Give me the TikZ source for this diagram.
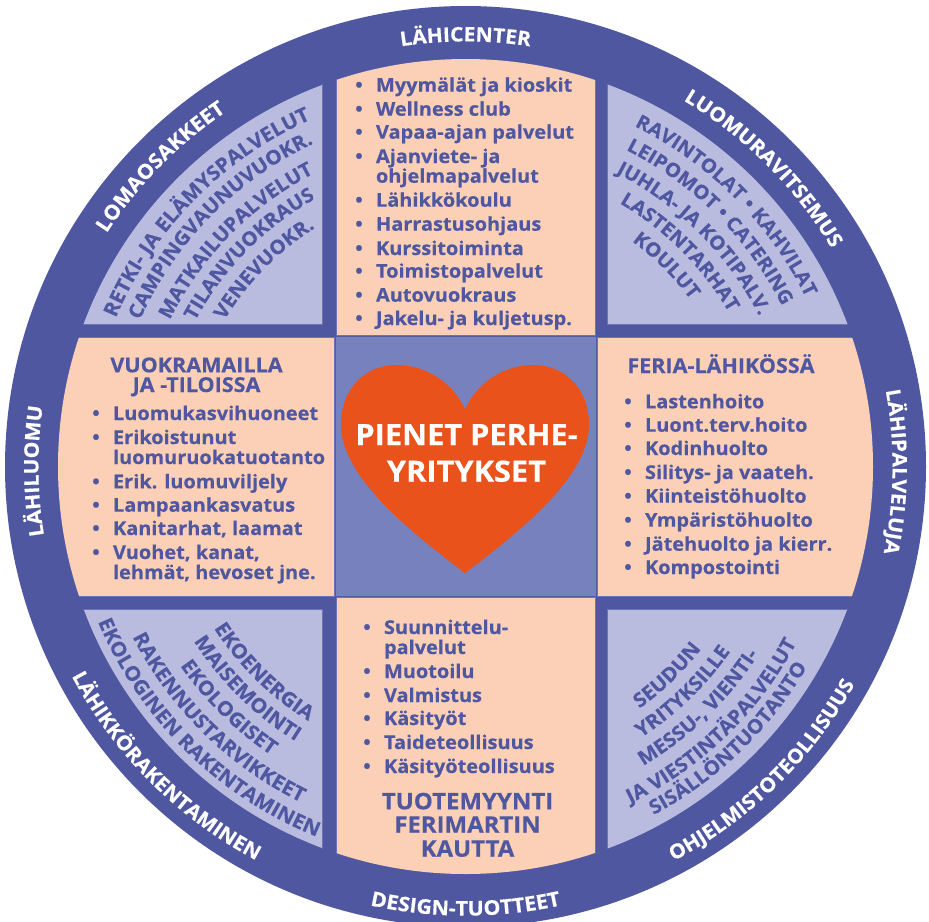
\documentclass[tikz,border=0pt]{standalone}
\usepackage{fontspec}
\usetikzlibrary{decorations.text}
\newfontfamily\basefnt[Ligatures=NoCommon,FakeStretch=1.05,FakeBold=0.4]{Open Sans Bold}
\definecolor{ring}{HTML}{5057A1}
\definecolor{edge}{HTML}{6C73B6}
\definecolor{lav}{HTML}{B9BCDF}
\definecolor{peach}{HTML}{FBD0B6}
\definecolor{sq}{HTML}{7781BD}
\definecolor{heart}{HTML}{E9531B}
\newcommand\fsz[1]{\basefnt\fontsize{#1}{#1}\selectfont}
\tikzset{
  tx/.style={inner sep=0pt,outer sep=0pt,text=ring,font=\fsz{19}},
  hd/.style={inner sep=0pt,outer sep=0pt,text=ring,font=\fsz{20.5},anchor=base},
  big/.style={inner sep=0pt,outer sep=0pt,text=ring,font=\fsz{22.8},anchor=base},
  hearttx/.style={inner sep=0pt,outer sep=0pt,text=white,font=\fsz{29.3},anchor=base},
  panel/.style={fill=peach,draw=edge,line width=0.7pt},
  quad/.style={fill=lav,draw=edge,line width=0.7pt}
}
% #1 radius, #2 centre angle, #3 cw or ccw sign (-1 clockwise, 1 counter), #4 size, #5 colour, #6 text
\newcommand\curved[6]{%
  \pgfmathsetmacro\aA{#2-(#3)*70}\pgfmathsetmacro\aB{#2+(#3)*70}%
  \path[shift={(465.5pt,-466.5pt)},decorate,
    decoration={text along path,text align=center,text={|\color{#5}\fsz{#4}|#6}}]
    (\aA:#1pt) arc[start angle=\aA,end angle=\aB,radius=#1pt];}
\newcommand\li[4]{\node[tx,anchor=base] (b#1) at (#2-17,-#3) {•};\node[tx,anchor=base west] (t#1) at (#2,-#3) {#4};}
\newcommand\lc[4]{\node[tx,anchor=base west] (t#1) at (#2,-#3) {#4};}
\begin{document}
\begin{tikzpicture}[x=1pt,y=1pt]
\clip (0,0) rectangle (929,-921);
\coordinate (c) at (465.5,-466.5);
% ring
\fill[ring] (c) circle[radius=460.5pt];
\begin{scope}
\clip (c) circle[radius=407.5pt];
% peach cross
\path[panel] (336,0) rectangle (595.5,-335.5);
\path[panel] (336,-597.5) rectangle (595.5,-921);
\path[panel] (0,-337.7) rectangle (334,-596);
\path[panel] (597,-337.7) rectangle (929,-596);
% lavender quadrants
\path[quad] (0,0) rectangle (322.7,-324);
\path[quad] (607.7,0) rectangle (929,-324);
\path[quad] (0,-609.3) rectangle (322.7,-921);
\path[quad] (607.7,-609.3) rectangle (929,-921);
\end{scope}
% centre square
\path[fill=sq,draw=ring!90!sq,line width=1.2pt] (335.5,-336.5) rectangle (596.5,-596.8);
% heart
\fill[heart] (465,-573.3)
  .. controls (420,-538.3) and (341,-480) .. (341,-425)
  .. controls (341,-386.7) and (366.7,-365) .. (396.7,-365)
  .. controls (426.7,-365) and (453.3,-383.3) .. (465,-409.3)
  .. controls (476.7,-383.3) and (503.3,-365) .. (533.3,-365)
  .. controls (563.3,-365) and (589,-386.7) .. (589,-425)
  .. controls (589,-480) and (510,-538.3) .. (465,-573.3) -- cycle;
\node[hearttx] (h1) at (466.5,-445) {PIENET PERHE-};
\node[hearttx] (h2) at (466.5,-481.7) {YRITYKSET};
% top list
\li{a1}{376}{91.7}{Myymälät ja kioskit}
\li{a2}{376}{115.7}{Wellness club}
\li{a3}{376}{138.7}{Vapaa-ajan palvelut}
\li{a4}{376}{163}{Ajanviete- ja}
\lc{a5}{376}{182.7}{ohjelmapalvelut}
\li{a6}{376}{206.7}{Lähikkökoulu}
\li{a7}{376}{230.7}{Harrastusohjaus}
\li{a8}{376}{255}{Kurssitoiminta}
\li{a9}{376}{277.7}{Toimistopalvelut}
\li{a10}{376}{301.7}{Autovuokraus}
\li{a11}{376}{325}{Jakelu- ja kuljetusp.}
% left list
\node[hd] (l0) at (196.5,-372.3) {VUOKRAMAILLA};
\node[hd] (l00) at (196.5,-392) {JA -TILOISSA};
\li{l1}{113}{420}{Luomukasvihuoneet}
\li{l2}{113}{444}{Erikoistunut}
\lc{l3}{113}{464}{luomuruokatuotanto}
\li{l4}{113}{488.3}{Erik. luomuviljely}
\li{l5}{113}{511.7}{Lampaankasvatus}
\li{l6}{113}{535}{Kanitarhat, laamat}
\li{l7}{113}{559}{Vuohet, kanat,}
\lc{l8}{113}{579}{lehmät, hevoset jne.}
% right list
\node[hd] (r0) at (721,-373) {FERIA-LÄHIKÖSSÄ};
\li{r1}{645}{408.3}{Lastenhoito}
\li{r2}{645}{431.7}{Luont.terv.hoito}
\li{r3}{645}{455}{Kodinhuolto}
\li{r4}{645}{479}{Silitys- ja vaateh.}
\li{r5}{645}{502.7}{Kiinteistöhuolto}
\li{r6}{645}{526.7}{Ympäristöhuolto}
\li{r7}{645}{550.7}{Jätehuolto ja kierr.}
\li{r8}{645}{574}{Kompostointi}
% bottom list
\li{d1}{384}{634}{Suunnittelu-}
\lc{d2}{384}{654}{palvelut}
\li{d3}{384}{678}{Muotoilu}
\li{d4}{384}{702}{Valmistus}
\li{d5}{384}{725}{Käsityöt}
\li{d6}{384}{749}{Taideteollisuus}
\li{d7}{384}{773}{Käsityöteollisuus}
\node[big] (d8) at (467.5,-809.3) {TUOTEMYYNTI};
\node[big] (d9) at (467.5,-832.7) {FERIMARTIN};
\node[big] (d10) at (467.5,-856.7) {KAUTTA};
% ring labels
\curved{425}{90}{-1}{20}{white}{LÄHICENTER}
\curved{427}{-0.7}{-1}{20}{white}{LÄHIPALVELUJA}
\curved{427}{180.6}{-1}{20}{white}{LÄHILUOMU}
\curved{449}{270}{1}{20.3}{white}{DESIGN-TUOTTEET}
\curved{428}{135.5}{-1}{20.3}{white}{LOMAOSAKKEET}
\curved{426}{45}{-1}{20}{white}{LUOMURAVITSEMUS}
\curved{446}{-45.7}{1}{20}{white}{OHJELMISTOTEOLLISUUS}
\curved{446}{225}{1}{20}{white}{LÄHIKKÖRAKENTAMINEN}
% top-left quadrant
\curved{380}{135.5}{-1}{20}{ring}{RETKI- JA ELÄMYSPALVELUT}
\curved{357}{135.5}{-1}{19.7}{ring}{CAMPINGVAUNUVUOKR.}
\curved{330}{135.5}{-1}{19.5}{ring}{MATKAILUPALVELUT}
\curved{307}{135.5}{-1}{19.5}{ring}{TILANVUOKRAUS}
\curved{282}{135.5}{-1}{19.5}{ring}{VENEVUOKR.}
% top-right quadrant
\curved{380}{45}{-1}{19.3}{ring}{RAVINTOLAT • KAHVILAT}
\curved{355}{45}{-1}{19.3}{ring}{LEIPOMOT • CATERING}
\curved{330}{45}{-1}{19.3}{ring}{JUHLA- JA KOTIPALV.}
\curved{305}{45}{-1}{19.3}{ring}{LASTENTARHAT}
\curved{280}{45}{-1}{19.3}{ring}{KOULUT}
% bottom-left quadrant
\curved{399}{225.5}{1}{20}{ring}{EKOLOGINEN RAKENTAMINEN}
\curved{374}{225.5}{1}{20}{ring}{RAKENNUSTARVIKKEET}
\curved{348}{225.5}{1}{20}{ring}{EKOLOGISET}
\curved{323}{225.5}{1}{20}{ring}{MAISEMOINTI}
\curved{299}{225.5}{1}{20}{ring}{EKOENERGIA}
% bottom-right quadrant
\curved{396}{-46}{1}{19.7}{ring}{SISÄLLÖNTUOTANTO}
\curved{375}{-46}{1}{19.7}{ring}{JA VIESTINTÄPALVELUT}
\curved{348}{-46}{1}{19.7}{ring}{MESSU-, VIENTI-}
\curved{323}{-46}{1}{19.7}{ring}{YRITYKSILLE}
\curved{298}{-46}{1}{19.7}{ring}{SEUDUN}
\end{tikzpicture}
\end{document}
